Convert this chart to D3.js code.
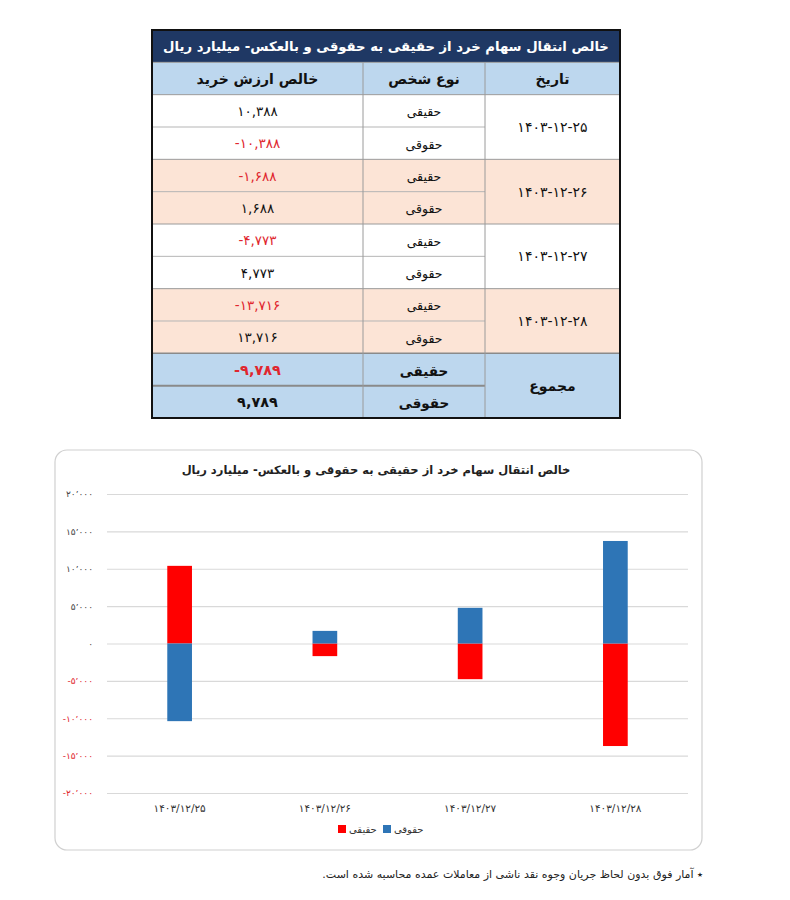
<!DOCTYPE html>
<html>
<head>
<meta charset="utf-8">
<script src="https://cdn.jsdelivr.net/npm/d3@7"></script>
<style>
  body { margin: 0; background: #fff; }
  svg { display: block; }
  text { font-family: "DejaVu Sans", sans-serif; }
</style>
</head>
<body>
<div id="vis"></div>
<script>
// data
const dates = ["1403/12/25", "1403/12/26", "1403/12/27", "1403/12/28"];
const haghighi = [10388, -1688, -4773, -13716];
const hoghoghi = [-10388, 1688, 4773, 13716];
const totals = [-9789, 9789];
const personTypes = ["حقیقی", "حقوقی"];
const yTicks = [-20000, -15000, -10000, -5000, 0, 5000, 10000, 15000, 20000];

const tableTitle = "خالص انتقال سهام خرد از حقیقی به حقوقی و بالعکس- میلیارد ریال";
const headers = ["خالص ارزش خرید", "نوع شخص", "تاریخ"];
const totalLabel = "مجموع";
const chartTitle = "خالص انتقال سهام خرد از حقیقی به حقوقی و بالعکس- میلیارد ریال";
const footnote = "٭ آمار فوق بدون لحاظ جریان وجوه نقد ناشی از معاملات عمده محاسبه شده است.";

const faDigits = "۰۱۲۳۴۵۶۷۸۹";
const toFa = s => String(s).replace(/\d/g, d => faDigits[d]);
const numerals = faDigits.split("");

const tableFmt = d3.formatLocale({decimal: ".", thousands: ",", grouping: [3], currency: ["", ""], numerals: numerals, minus: "-"}).format(",");
const axisFmt = d3.formatLocale({decimal: ".", thousands: "٬", grouping: [3], currency: ["", ""], numerals: numerals, minus: "-"}).format(",");

const red = "#ff0000";
const blue = "#2e75b6";
const negText = "#e0262e";

const svg = d3.select("#vis").append("svg")
    .attr("width", 790)
    .attr("height", 900);

// ---------- table ----------
function drawTable() {
  const left = 152, right = 620;
  const colEdges = [152, 363, 485, 620]; // value | type | date
  const colMid = i => (colEdges[i] + colEdges[i + 1]) / 2;

  const row = d3.scaleBand().domain(d3.range(12)).range([30, 418]);
  const rh = row.bandwidth();

  const g = svg.append("g");

  // backgrounds
  g.append("rect").attr("x", left).attr("y", row(0)).attr("width", right - left).attr("height", rh).attr("fill", "#1f3864");
  g.append("rect").attr("x", left).attr("y", row(1)).attr("width", right - left).attr("height", rh).attr("fill", "#bdd7ee");
  g.selectAll(".grp").data(dates).join("rect")
    .attr("x", left)
    .attr("y", (d, i) => row(2 + 2 * i))
    .attr("width", right - left)
    .attr("height", 2 * rh)
    .attr("fill", (d, i) => i % 2 ? "#fce4d6" : "#ffffff");
  g.append("rect").attr("x", left).attr("y", row(10)).attr("width", right - left).attr("height", 2 * rh).attr("fill", "#bdd7ee");

  // grid lines
  const full = [1, 2, 4, 6, 8];
  g.selectAll(".hfull").data(full).join("line")
    .attr("x1", left).attr("x2", right)
    .attr("y1", d => row(d)).attr("y2", d => row(d))
    .attr("stroke", "#9a9a9a").attr("stroke-width", 1);
  g.append("line")
    .attr("x1", left).attr("x2", right)
    .attr("y1", row(10)).attr("y2", row(10))
    .attr("stroke", "#8a8a8a").attr("stroke-width", 1.5);
  g.selectAll(".hsub").data([3, 5, 7, 9]).join("line")
    .attr("x1", left).attr("x2", colEdges[2])
    .attr("y1", d => row(d)).attr("y2", d => row(d))
    .attr("stroke", "#b5b5b5").attr("stroke-width", 1);
  g.append("line")
    .attr("x1", left).attr("x2", colEdges[2])
    .attr("y1", row(11)).attr("y2", row(11))
    .attr("stroke", "#8a8a8a").attr("stroke-width", 2);
  g.selectAll(".vl").data([colEdges[1], colEdges[2]]).join("line")
    .attr("x1", d => d).attr("x2", d => d)
    .attr("y1", row(1)).attr("y2", 418)
    .attr("stroke", "#9a9a9a").attr("stroke-width", 1);

  // outer border
  g.append("rect")
    .attr("x", left).attr("y", row(0))
    .attr("width", right - left).attr("height", 418 - row(0))
    .attr("fill", "none").attr("stroke", "#111").attr("stroke-width", 2);

  // texts
  g.append("text")
    .attr("x", (left + right) / 2).attr("y", row(0) + rh / 2)
    .attr("text-anchor", "middle").attr("dominant-baseline", "central")
    .attr("direction", "rtl")
    .attr("fill", "#fff").attr("font-weight", "bold").attr("font-size", 13.2)
    .text(tableTitle);

  g.selectAll(".hdr").data(headers).join("text")
    .attr("x", (d, i) => colMid(i)).attr("y", row(1) + rh / 2)
    .attr("text-anchor", "middle").attr("dominant-baseline", "central")
    .attr("font-weight", "bold").attr("font-size", 14)
    .attr("fill", "#111")
    .text(d => d);

  const rows = [];
  dates.forEach((d, i) => {
    rows.push({r: 2 + 2 * i, type: personTypes[0], value: haghighi[i], bold: false});
    rows.push({r: 3 + 2 * i, type: personTypes[1], value: hoghoghi[i], bold: false});
  });
  rows.push({r: 10, type: personTypes[0], value: totals[0], bold: true});
  rows.push({r: 11, type: personTypes[1], value: totals[1], bold: true});

  g.selectAll(".val").data(rows).join("text")
    .attr("x", colMid(0)).attr("y", d => row(d.r) + rh / 2)
    .attr("text-anchor", "middle").attr("dominant-baseline", "central")
    .attr("font-size", d => d.bold ? 14.5 : 13.5)
    .attr("font-weight", d => d.bold ? "bold" : "normal")
    .attr("fill", d => d.value < 0 ? negText : "#111")
    .text(d => tableFmt(d.value));

  g.selectAll(".typ").data(rows).join("text")
    .attr("x", colMid(1)).attr("y", d => row(d.r) + rh / 2 + 1)
    .attr("text-anchor", "middle").attr("dominant-baseline", "central")
    .attr("font-size", d => d.bold ? 13.5 : 12.5)
    .attr("font-weight", d => d.bold ? "bold" : "normal")
    .attr("fill", "#111")
    .text(d => d.type);

  g.selectAll(".dt").data(dates).join("text")
    .attr("x", colMid(2)).attr("y", (d, i) => row(3 + 2 * i))
    .attr("text-anchor", "middle").attr("dominant-baseline", "central")
    .attr("font-size", 14)
    .attr("fill", "#111")
    .text(d => toFa(d.replace(/\//g, "-")));

  g.append("text")
    .attr("x", colMid(2)).attr("y", row(11))
    .attr("text-anchor", "middle").attr("dominant-baseline", "central")
    .attr("font-size", 14).attr("font-weight", "bold")
    .attr("fill", "#111")
    .text(totalLabel);
}

// ---------- chart ----------
function drawChart() {
  const box = {x: 55, y: 450, w: 647, h: 400};
  const plot = {left: 107, right: 688, top: 494, bottom: 793};

  svg.append("rect")
    .attr("x", box.x).attr("y", box.y)
    .attr("width", box.w).attr("height", box.h)
    .attr("rx", 12)
    .attr("fill", "#fff").attr("stroke", "#d0d0d0").attr("stroke-width", 1.2);

  svg.append("text")
    .attr("x", 376).attr("y", 470)
    .attr("text-anchor", "middle").attr("dominant-baseline", "central")
    .attr("direction", "rtl")
    .attr("font-weight", "bold").attr("font-size", 11.5)
    .attr("fill", "#222")
    .text(chartTitle);

  const x = d3.scaleBand()
      .domain(dates)
      .range([plot.left, plot.right])
      .paddingInner(0.83)
      .paddingOuter(0.415);

  const y = d3.scaleLinear()
      .domain([-20000, 20000])
      .range([plot.bottom, plot.top]);

  const yAxis = svg.append("g")
    .attr("transform", `translate(${plot.left},0)`)
    .call(d3.axisLeft(y)
      .tickValues(yTicks)
      .tickSize(-(plot.right - plot.left))
      .tickPadding(14)
      .tickFormat(axisFmt));
  yAxis.select(".domain").remove();
  yAxis.selectAll(".tick line").attr("stroke", "#d9d9d9").attr("stroke-width", 1.2);
  yAxis.selectAll(".tick text")
    .attr("font-family", "DejaVu Sans, sans-serif")
    .attr("font-size", 9)
    .attr("fill", d => d < 0 ? negText : "#444");

  const series = [
    {name: personTypes[0], values: haghighi, color: red},
    {name: personTypes[1], values: hoghoghi, color: blue}
  ];

  series.forEach(s => {
    svg.append("g").selectAll("rect")
      .data(dates.map((d, i) => ({date: d, value: s.values[i]})))
      .join("rect")
      .attr("x", d => x(d.date))
      .attr("y", d => y(Math.max(0, d.value)))
      .attr("width", x.bandwidth())
      .attr("height", d => Math.abs(y(d.value) - y(0)))
      .attr("fill", s.color);
  });

  const xAxis = svg.append("g")
    .attr("transform", `translate(0,${plot.bottom})`)
    .call(d3.axisBottom(x).tickSize(0).tickPadding(12).tickFormat(toFa));
  xAxis.select(".domain").remove();
  xAxis.selectAll(".tick text")
    .attr("font-family", "DejaVu Sans, sans-serif")
    .attr("font-size", 10.5)
    .attr("fill", "#333");

  // legend
  const legend = svg.append("g").attr("transform", "translate(338,829)");
  const item = legend.selectAll("g").data(series).join("g")
    .attr("transform", (d, i) => `translate(${i * 45},0)`);
  item.append("rect")
    .attr("x", 0).attr("y", -4)
    .attr("width", 8).attr("height", 8)
    .attr("fill", d => d.color);
  item.append("text")
    .attr("x", 11).attr("y", 0)
    .attr("dominant-baseline", "central")
    .attr("font-size", 10)
    .attr("fill", "#333")
    .text(d => d.name);

  svg.append("text")
    .attr("x", 703).attr("y", 874)
    .attr("direction", "rtl")
    .attr("text-anchor", "start")
    .attr("dominant-baseline", "central")
    .attr("font-size", 11)
    .attr("fill", "#222")
    .text(footnote);
}

drawTable();
drawChart();
</script>
</body>
</html>
